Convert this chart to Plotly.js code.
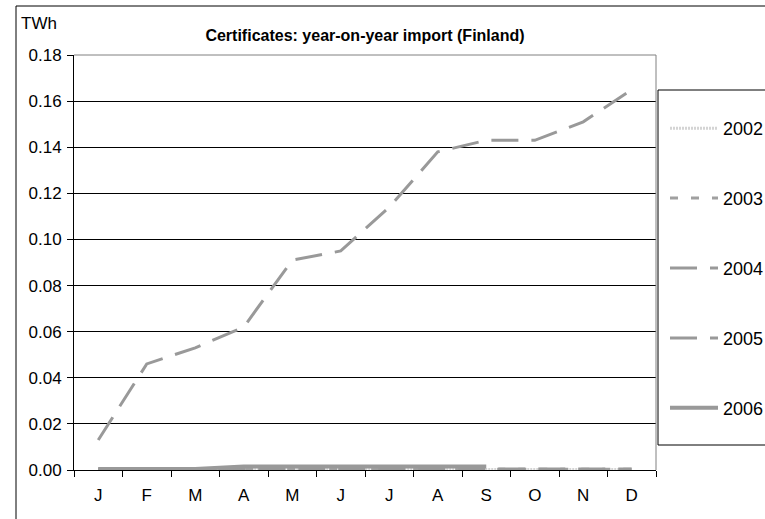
<!DOCTYPE html>
<html>
<head>
<meta charset="utf-8">
<script src="https://cdn.plot.ly/plotly-3.0.1.min.js"></script>
<style>html,body{margin:0;padding:0;background:#fff;}#chart{width:765px;height:519px;}</style>
</head>
<body>
<div id="chart"></div>
<script>
var months = ['Jan','Feb','Mar','Apr','May','Jun','Jul','Aug','Sep','Oct','Nov','Dec'];
var monthLabels = ['J','F','M','A','M','J','J','A','S','O','N','D'];
var yTicks = [0, 0.02, 0.04, 0.06, 0.08, 0.10, 0.12, 0.14, 0.16, 0.18];

var s2002 = [0.0002,0.0002,0.0002,0.0002,0.0002,0.0002,0.0002,0.0002,0.0002,0.0002,0.0002,0.0002];
var s2003 = [0.0003,0.0003,0.0003,0.0003,0.0003,0.0003,0.0003,0.0003,0.0003,0.0003,0.0003,0.0003];
var s2004 = [0.0004,0.0004,0.0004,0.0004,0.0004,0.0004,0.0004,0.0004,0.0004,0.0004,0.0004,0.0004];
var s2005 = [0.013,0.046,0.053,0.062,0.091,0.095,0.114,0.138,0.143,0.143,0.151,0.165];
var s2006 = [0.0004,0.0004,0.0004,0.0015,0.0015,0.0015,0.0015,0.0015,0.0015];

var FONT = 'Arial, "Liberation Sans", sans-serif';

// pixel helpers for the plot frame (l=74, plot width 582, t=55, plot height 415)
function px2x(px) { return (px - 74) / 582; }
function px2y(py) { return (470 - py) / 415; }

function tr(name, y, color, width, dash, grp) {
  return {
    type: 'scatter', mode: 'lines', name: name, x: months.slice(0, y.length), y: y,
    line: {color: color, width: width, dash: dash},
    legendgroup: grp, hoverinfo: 'skip'
  };
}

var data = [
  tr('2002', s2002, '#d4d4d4', 3, '2px,1px', 'g1'),
  tr('2003', s2003, '#a0a0a0', 3, '8px,13px', 'g2'),
  tr('2004', s2004, '#999999', 3, '27px,13px', 'g3'),
  tr('2005', s2005, '#999999', 3, '27px,13px', 'g4'),
  tr('2006', s2006, '#999999', 4, 'solid', 'g5')
];

var layout = {
  width: 765, height: 519,
  margin: {l: 74, r: 109, t: 55, b: 49, autoexpand: false},
  paper_bgcolor: '#ffffff', plot_bgcolor: '#ffffff',
  font: {family: FONT, size: 17, color: '#000000'},
  title: {
    text: '<b>Certificates: year-on-year import (Finland)</b>',
    font: {family: FONT, size: 16, color: '#000000'},
    x: 0.5, xref: 'paper', xanchor: 'center',
    y: 1 - 35/519, yref: 'container', yanchor: 'middle'
  },
  xaxis: {
    type: 'category', categoryorder: 'array', categoryarray: months,
    tickmode: 'array', tickvals: months, ticktext: monthLabels,
    tickson: 'boundaries', ticks: 'outside', ticklen: 6, tickcolor: '#000000', tickwidth: 1,
    showline: true, linecolor: '#000000', linewidth: 1,
    showgrid: false, zeroline: false, range: [-0.5, 11.5],
    ticklabelstandoff: 10,
    tickfont: {family: FONT, size: 17, color: '#000000'}
  },
  yaxis: {
    range: [0, 0.18], tickmode: 'array', tickvals: yTicks,
    tickformat: '.2f',
    ticks: 'outside', ticklen: 6, tickcolor: '#000000', tickwidth: 1,
    showline: true, linecolor: '#000000', linewidth: 1,
    showgrid: true, gridcolor: '#000000', gridwidth: 1, zeroline: false,
    ticklabelstandoff: 2,
    tickfont: {family: FONT, size: 17, color: '#000000'}
  },
  legend: {
    x: px2x(665), xanchor: 'left', xref: 'paper',
    y: px2y(110), yanchor: 'top', yref: 'paper',
    bgcolor: 'rgba(255,255,255,0)', borderwidth: 0,
    font: {family: FONT, size: 18, color: '#000000'},
    tracegroupgap: 43.5, traceorder: 'grouped', itemwidth: 48,
    itemclick: false, itemdoubleclick: false
  },
  showlegend: true,
  shapes: [
    {type: 'path', xref: 'paper', yref: 'paper', path: 'M 0 1 L 1 1 L 1 0',
     line: {color: '#808080', width: 1}, layer: 'above'},
    {type: 'rect', xref: 'paper', yref: 'paper',
     x0: px2x(16), x1: 1.5, y0: -0.5, y1: px2y(6),
     line: {color: '#000000', width: 1}, fillcolor: 'rgba(0,0,0,0)', layer: 'below'},
    {type: 'rect', xref: 'paper', yref: 'paper',
     x0: px2x(658), x1: px2x(800), y0: px2y(445), y1: px2y(90),
     line: {color: '#000000', width: 1}, fillcolor: '#ffffff', layer: 'below'}
  ],
  annotations: [
    {text: 'TWh', xref: 'paper', yref: 'paper', x: px2x(19), xanchor: 'left',
     y: px2y(24), yanchor: 'middle', showarrow: false,
     font: {family: FONT, size: 17, color: '#000000'}}
  ]
};

Plotly.newPlot('chart', data, layout, {staticPlot: true, displayModeBar: false});
</script>
</body>
</html>
